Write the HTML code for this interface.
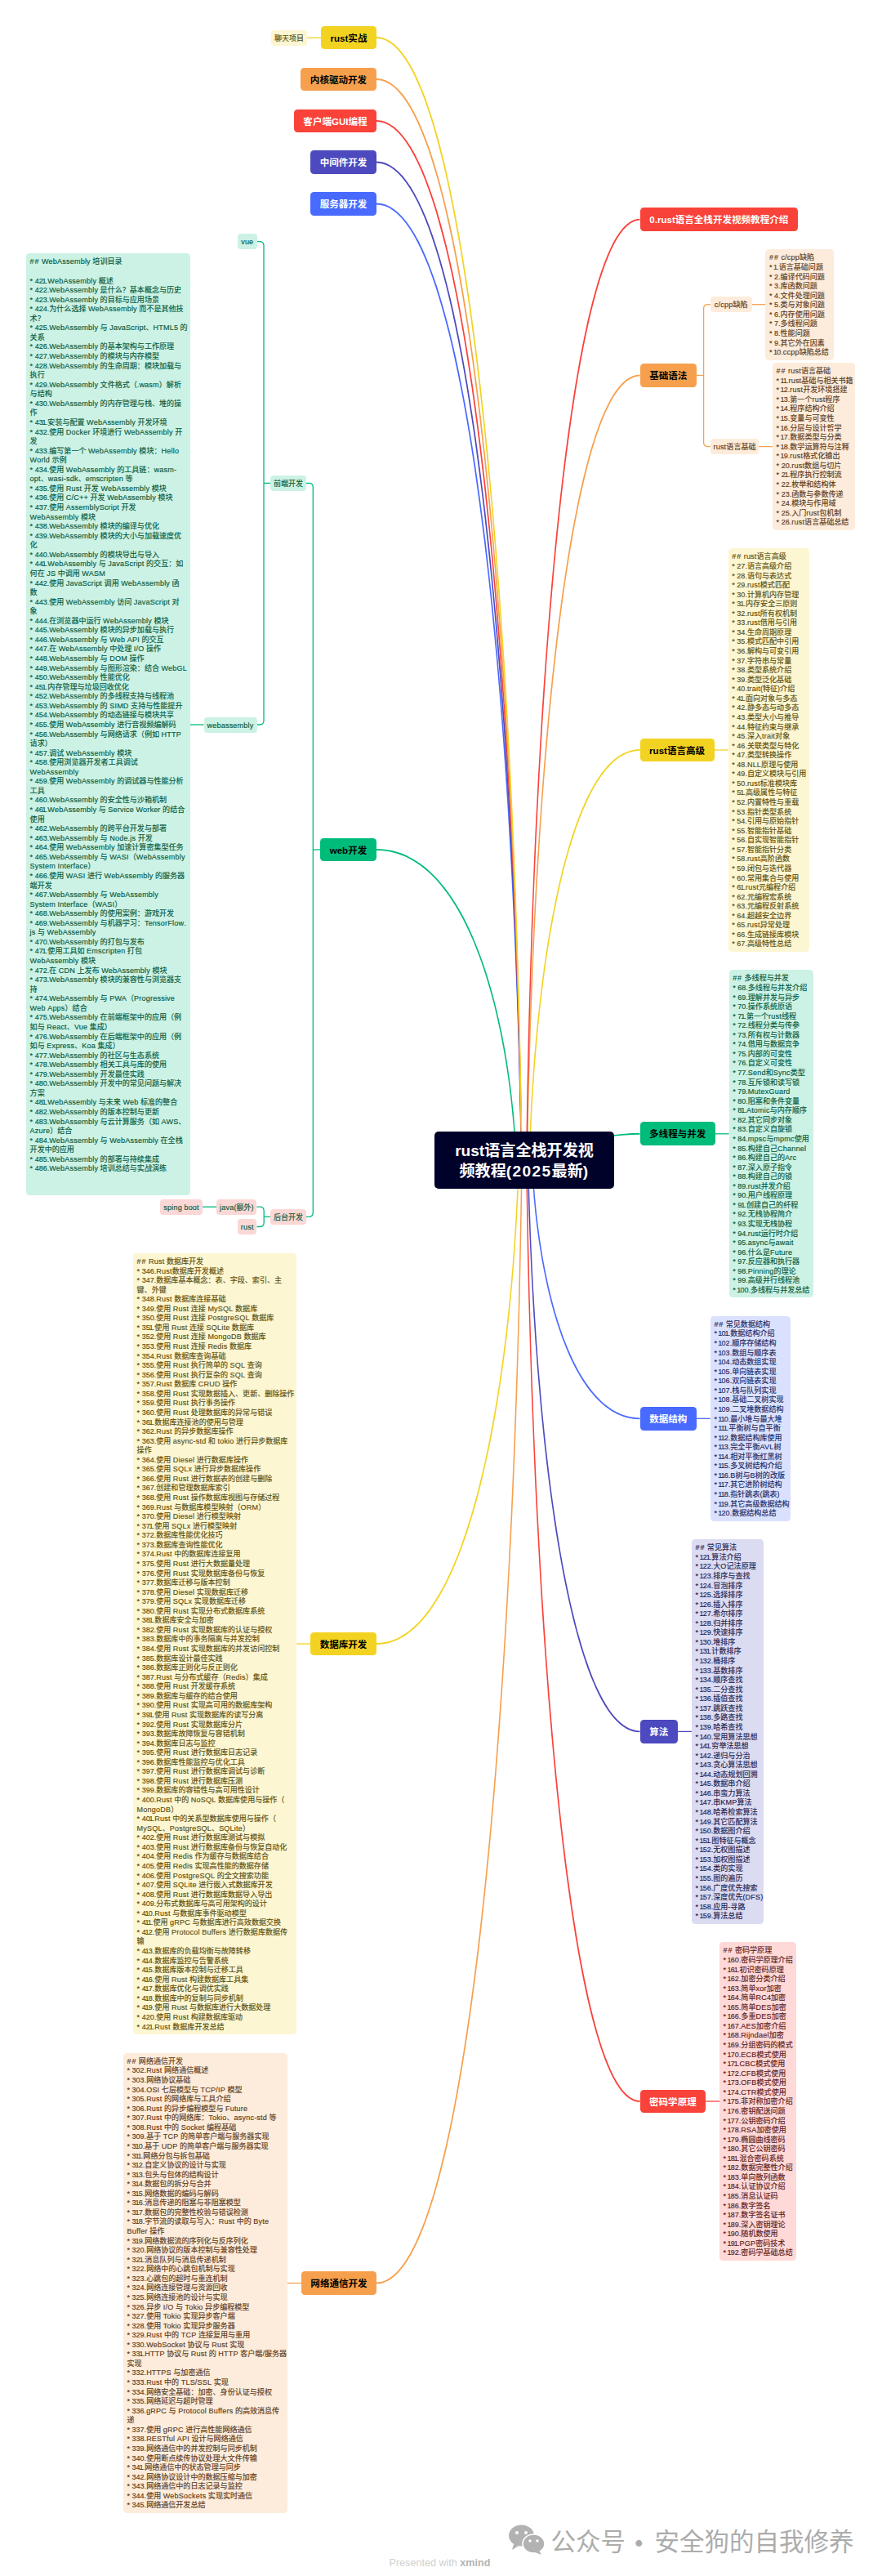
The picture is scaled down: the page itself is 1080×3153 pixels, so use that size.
<!DOCTYPE html>
<html lang="zh-CN"><head><meta charset="utf-8"><title>rust语言全栈开发视频教程(2025最新)</title><style>
html,body{margin:0;padding:0;background:#fff}
body{width:1080px;height:3153px;position:relative;overflow:hidden;font-family:"Liberation Sans","Noto Sans CJK SC",sans-serif}
.m{position:absolute;height:28.8px;line-height:30px;border-radius:4.5px;font-size:11.56px;font-weight:bold;text-align:center;white-space:nowrap}
.s{position:absolute;height:19px;line-height:20.6px;border-radius:4px;font-size:9.05px;text-align:center;white-space:nowrap;-webkit-text-stroke:.15px currentColor}
.n{position:absolute;box-sizing:border-box;padding:5.2px 0 0 4.6px;border-radius:4.5px;font-size:9.05px;line-height:11.565px;white-space:pre;overflow:hidden;-webkit-text-stroke:.15px currentColor}
.c{position:absolute;background:#000229;color:#fff;border-radius:5px;font-size:19.1px;font-weight:bold;line-height:25.5px;text-align:center;box-sizing:border-box;padding-top:10.7px;white-space:nowrap}
.n i,.s i{font-style:normal;letter-spacing:.2px}
.c i{font-style:normal;letter-spacing:1.4px}
.n b{font-weight:normal;letter-spacing:.9px}
.n u{text-decoration:none;letter-spacing:-.8px;margin-left:-1.1px}
#dot{font-family:"Noto Sans CJK SC","Liberation Sans",sans-serif}
.pw{position:absolute;font-size:12.6px;color:#cfcfcf;white-space:nowrap;line-height:16px}
.pw b{color:#b4b4b4}
.wm{position:absolute;font-size:30.5px;line-height:38px;color:#acacac;white-space:nowrap}
</style></head><body>
<svg style="position:absolute;left:0;top:0" width="1080" height="3153" viewBox="0 0 1080 3153">
<path d="M644.1 1420.0 L644.4 1448.8 L644.9 1477.6 L645.4 1506.3 L645.9 1535.0 L646.6 1563.7 L647.3 1592.2 L648.1 1620.7 L648.9 1649.1 L649.8 1677.3 L650.7 1705.4 L651.8 1733.3 L652.9 1761.0 L654.0 1788.6 L655.2 1815.9 L656.5 1843.0 L657.9 1869.9 L659.3 1896.5 L660.8 1922.9 L662.3 1949.0 L663.9 1974.7 L665.6 2000.2 L667.4 2025.3 L669.2 2050.0 L671.0 2074.4 L673.0 2098.4 L675.0 2122.0 L677.1 2145.2 L679.2 2167.9 L681.4 2190.2 L683.7 2212.1 L686.0 2233.5 L688.4 2254.3 L690.9 2274.7 L693.4 2294.5 L696.0 2313.8 L698.7 2332.5 L701.4 2350.7 L704.2 2368.2 L707.1 2385.2 L710.0 2401.5 L713.0 2417.2 L716.1 2432.2 L719.2 2446.6 L722.4 2460.3 L725.7 2473.2 L729.1 2485.5 L732.5 2497.0 L735.9 2507.8 L739.5 2517.8 L743.1 2527.0 L746.8 2535.5 L750.5 2543.1 L754.3 2549.9 L758.2 2555.8 L762.2 2560.9 L766.3 2565.2 L770.5 2568.5 L774.7 2571.0 L779.1 2572.4 L783.6 2572.9 L783.6 2571.1 L779.5 2570.6 L775.5 2569.2 L771.5 2567.0 L767.6 2563.8 L763.6 2559.7 L759.7 2554.8 L755.9 2548.9 L752.1 2542.2 L748.4 2534.7 L744.8 2526.3 L741.2 2517.2 L737.6 2507.2 L734.2 2496.5 L730.8 2485.0 L727.5 2472.8 L724.2 2459.8 L721.0 2446.2 L717.9 2431.8 L714.8 2416.8 L711.8 2401.2 L708.8 2384.9 L706.0 2367.9 L703.2 2350.4 L700.4 2332.3 L697.8 2313.5 L695.1 2294.3 L692.6 2274.5 L690.1 2254.1 L687.7 2233.3 L685.4 2211.9 L683.1 2190.1 L680.9 2167.8 L678.7 2145.0 L676.7 2121.9 L674.7 2098.3 L672.7 2074.3 L670.8 2049.9 L669.0 2025.1 L667.3 2000.0 L665.6 1974.6 L663.9 1948.9 L662.4 1922.8 L660.9 1896.5 L659.5 1869.8 L658.1 1843.0 L656.8 1815.8 L655.6 1788.5 L654.4 1761.0 L653.3 1733.2 L652.3 1705.3 L651.3 1677.2 L650.4 1649.0 L649.6 1620.7 L648.8 1592.2 L648.1 1563.6 L647.5 1535.0 L646.9 1506.3 L646.4 1477.6 L645.9 1448.8 L645.6 1420.0Z" fill="#F9423A"/>
<path d="M645.8 1420.0 L646.2 1437.5 L646.6 1455.0 L647.1 1472.4 L647.7 1489.9 L648.3 1507.3 L649.0 1524.6 L649.8 1541.9 L650.6 1559.1 L651.5 1576.2 L652.4 1593.3 L653.4 1610.2 L654.5 1627.1 L655.6 1643.8 L656.9 1660.4 L658.1 1676.9 L659.5 1693.2 L660.9 1709.4 L662.3 1725.4 L663.9 1741.2 L665.4 1756.8 L667.1 1772.3 L668.8 1787.5 L670.6 1802.6 L672.5 1817.4 L674.4 1831.9 L676.4 1846.3 L678.4 1860.4 L680.5 1874.2 L682.7 1887.7 L685.0 1901.0 L687.3 1914.0 L689.6 1926.6 L692.1 1939.0 L694.6 1951.0 L697.2 1962.8 L699.8 1974.1 L702.5 1985.2 L705.3 1995.8 L708.1 2006.1 L711.0 2016.0 L714.0 2025.6 L717.0 2034.7 L720.1 2043.4 L723.2 2051.8 L726.5 2059.6 L729.8 2067.1 L733.1 2074.1 L736.6 2080.7 L740.1 2086.8 L743.7 2092.4 L747.3 2097.5 L751.0 2102.2 L754.8 2106.3 L758.7 2110.0 L762.6 2113.1 L766.7 2115.7 L770.8 2117.7 L775.0 2119.2 L779.3 2120.0 L783.6 2120.3 L783.6 2118.5 L779.5 2118.2 L775.5 2117.3 L771.5 2116.0 L767.6 2114.0 L763.7 2111.6 L759.9 2108.6 L756.1 2105.0 L752.4 2101.0 L748.8 2096.4 L745.2 2091.4 L741.7 2085.8 L738.2 2079.8 L734.8 2073.3 L731.4 2066.3 L728.1 2058.9 L724.9 2051.1 L721.8 2042.8 L718.7 2034.1 L715.6 2025.0 L712.7 2015.5 L709.8 2005.6 L706.9 1995.4 L704.2 1984.7 L701.5 1973.7 L698.8 1962.4 L696.3 1950.7 L693.8 1938.7 L691.3 1926.3 L688.9 1913.7 L686.6 1900.7 L684.4 1887.4 L682.2 1873.9 L680.1 1860.1 L678.0 1846.0 L676.0 1831.7 L674.1 1817.2 L672.3 1802.4 L670.5 1787.3 L668.7 1772.1 L667.1 1756.7 L665.5 1741.0 L663.9 1725.2 L662.5 1709.2 L661.1 1693.1 L659.7 1676.7 L658.4 1660.3 L657.2 1643.7 L656.1 1627.0 L655.0 1610.1 L654.0 1593.2 L653.0 1576.1 L652.1 1559.0 L651.3 1541.8 L650.5 1524.5 L649.8 1507.2 L649.2 1489.8 L648.6 1472.4 L648.1 1454.9 L647.7 1437.5 L647.3 1420.0Z" fill="#4D49BE"/>
<path d="M650.6 1420.0 L651.0 1427.9 L651.4 1435.9 L651.9 1443.8 L652.5 1451.6 L653.1 1459.5 L653.7 1467.4 L654.5 1475.2 L655.2 1483.0 L656.1 1490.7 L657.0 1498.4 L658.0 1506.1 L659.0 1513.7 L660.1 1521.3 L661.3 1528.8 L662.5 1536.3 L663.8 1543.7 L665.2 1551.0 L666.6 1558.2 L668.1 1565.4 L669.6 1572.5 L671.2 1579.5 L672.9 1586.4 L674.6 1593.2 L676.4 1599.9 L678.2 1606.5 L680.2 1613.0 L682.1 1619.3 L684.2 1625.6 L686.3 1631.7 L688.4 1637.8 L690.7 1643.6 L693.0 1649.4 L695.3 1655.0 L697.7 1660.4 L700.2 1665.7 L702.8 1670.9 L705.4 1675.9 L708.1 1680.7 L710.8 1685.4 L713.6 1689.9 L716.5 1694.2 L719.4 1698.4 L722.4 1702.4 L725.5 1706.1 L728.6 1709.7 L731.8 1713.1 L735.1 1716.3 L738.4 1719.3 L741.8 1722.0 L745.3 1724.6 L748.8 1726.9 L752.4 1729.0 L756.1 1730.9 L759.8 1732.6 L763.6 1734.0 L767.5 1735.1 L771.4 1736.1 L775.4 1736.7 L779.5 1737.1 L783.6 1737.2 L783.6 1735.4 L779.6 1735.2 L775.7 1734.8 L771.8 1734.2 L768.0 1733.3 L764.2 1732.2 L760.5 1730.9 L756.9 1729.3 L753.3 1727.4 L749.8 1725.4 L746.3 1723.1 L742.9 1720.6 L739.6 1717.9 L736.3 1715.0 L733.1 1711.8 L730.0 1708.5 L726.9 1705.0 L723.8 1701.3 L720.9 1697.3 L718.0 1693.2 L715.1 1689.0 L712.3 1684.5 L709.6 1679.9 L706.9 1675.1 L704.3 1670.1 L701.8 1665.0 L699.3 1659.7 L696.9 1654.3 L694.6 1648.7 L692.3 1643.0 L690.0 1637.2 L687.9 1631.2 L685.8 1625.1 L683.7 1618.8 L681.8 1612.5 L679.8 1606.0 L678.0 1599.4 L676.2 1592.8 L674.5 1586.0 L672.8 1579.1 L671.2 1572.1 L669.7 1565.1 L668.2 1557.9 L666.8 1550.7 L665.4 1543.4 L664.1 1536.0 L662.9 1528.6 L661.7 1521.1 L660.6 1513.5 L659.6 1505.9 L658.6 1498.2 L657.7 1490.5 L656.8 1482.8 L656.0 1475.0 L655.3 1467.2 L654.6 1459.4 L654.0 1451.5 L653.4 1443.7 L652.9 1435.8 L652.5 1427.9 L652.1 1420.0Z" fill="#486AFF"/>
<path d="M649.0 1420.0 L649.4 1407.5 L649.8 1394.9 L650.3 1382.4 L650.9 1369.9 L651.5 1357.4 L652.2 1345.0 L652.9 1332.6 L653.8 1320.2 L654.6 1308.0 L655.6 1295.7 L656.6 1283.6 L657.7 1271.5 L658.8 1259.5 L660.0 1247.6 L661.2 1235.8 L662.6 1224.1 L664.0 1212.5 L665.4 1201.0 L666.9 1189.6 L668.5 1178.4 L670.1 1167.3 L671.9 1156.4 L673.6 1145.6 L675.5 1135.0 L677.4 1124.6 L679.3 1114.3 L681.4 1104.2 L683.4 1094.3 L685.6 1084.6 L687.8 1075.1 L690.1 1065.8 L692.4 1056.7 L694.9 1047.8 L697.3 1039.2 L699.9 1030.8 L702.5 1022.7 L705.1 1014.8 L707.9 1007.2 L710.7 999.8 L713.5 992.7 L716.5 985.9 L719.4 979.4 L722.5 973.1 L725.6 967.2 L728.8 961.6 L732.0 956.3 L735.3 951.3 L738.7 946.7 L742.1 942.3 L745.6 938.4 L749.1 934.8 L752.7 931.5 L756.4 928.6 L760.1 926.1 L763.9 923.9 L767.7 922.1 L771.6 920.8 L775.5 919.8 L779.5 919.1 L783.6 918.9 L783.6 917.1 L779.3 917.3 L775.2 917.9 L771.0 919.0 L767.0 920.4 L763.0 922.3 L759.1 924.5 L755.3 927.1 L751.5 930.1 L747.8 933.4 L744.2 937.1 L740.7 941.2 L737.2 945.6 L733.8 950.3 L730.5 955.3 L727.2 960.7 L724.0 966.4 L720.9 972.3 L717.8 978.6 L714.8 985.2 L711.9 992.0 L709.0 999.2 L706.2 1006.6 L703.5 1014.2 L700.8 1022.1 L698.2 1030.3 L695.7 1038.7 L693.2 1047.4 L690.8 1056.3 L688.4 1065.4 L686.2 1074.7 L683.9 1084.2 L681.8 1093.9 L679.7 1103.9 L677.7 1114.0 L675.7 1124.3 L673.8 1134.7 L672.0 1145.4 L670.2 1156.1 L668.5 1167.1 L666.9 1178.2 L665.3 1189.4 L663.8 1200.8 L662.4 1212.3 L661.0 1223.9 L659.7 1235.6 L658.4 1247.4 L657.2 1259.3 L656.1 1271.3 L655.0 1283.4 L654.0 1295.6 L653.1 1307.8 L652.2 1320.1 L651.4 1332.5 L650.6 1344.9 L650.0 1357.4 L649.3 1369.8 L648.8 1382.3 L648.3 1394.9 L647.9 1407.4 L647.5 1420.0Z" fill="#F3D321"/>
<path d="M646.1 1420.0 L646.5 1396.0 L646.9 1372.0 L647.4 1348.0 L648.0 1324.1 L648.7 1300.2 L649.4 1276.4 L650.1 1252.7 L651.0 1229.1 L651.9 1205.5 L652.8 1182.1 L653.9 1158.9 L654.9 1135.7 L656.1 1112.8 L657.3 1090.0 L658.6 1067.4 L660.0 1045.0 L661.4 1022.8 L662.9 1000.8 L664.4 979.1 L666.0 957.6 L667.7 936.4 L669.5 915.5 L671.3 894.8 L673.1 874.5 L675.1 854.5 L677.1 834.8 L679.2 815.5 L681.3 796.6 L683.5 778.0 L685.8 759.8 L688.1 742.0 L690.5 724.6 L693.0 707.6 L695.5 691.1 L698.1 675.0 L700.8 659.4 L703.5 644.3 L706.3 629.7 L709.1 615.6 L712.1 602.0 L715.1 588.9 L718.1 576.4 L721.2 564.5 L724.4 553.1 L727.7 542.3 L731.0 532.1 L734.4 522.6 L737.8 513.6 L741.3 505.3 L744.9 497.7 L748.5 490.7 L752.2 484.5 L756.0 478.9 L759.8 474.0 L763.7 469.9 L767.6 466.5 L771.5 463.9 L775.5 462.0 L779.5 460.8 L783.6 460.4 L783.6 458.6 L779.2 459.0 L774.8 460.2 L770.6 462.2 L766.4 465.0 L762.4 468.6 L758.4 472.8 L754.5 477.8 L750.7 483.5 L746.9 489.9 L743.3 496.9 L739.7 504.6 L736.1 512.9 L732.7 521.9 L729.3 531.5 L726.0 541.8 L722.7 552.6 L719.5 564.0 L716.4 576.0 L713.3 588.5 L710.3 601.6 L707.4 615.2 L704.6 629.4 L701.8 644.0 L699.0 659.1 L696.4 674.7 L693.8 690.8 L691.3 707.4 L688.8 724.3 L686.4 741.7 L684.1 759.5 L681.8 777.8 L679.6 796.4 L677.5 815.3 L675.4 834.7 L673.4 854.3 L671.5 874.4 L669.6 894.7 L667.8 915.3 L666.1 936.3 L664.4 957.5 L662.8 979.0 L661.3 1000.7 L659.8 1022.7 L658.4 1044.9 L657.0 1067.3 L655.7 1089.9 L654.5 1112.7 L653.4 1135.7 L652.3 1158.8 L651.3 1182.1 L650.3 1205.5 L649.4 1229.0 L648.6 1252.6 L647.8 1276.4 L647.1 1300.2 L646.5 1324.1 L645.9 1348.0 L645.4 1372.0 L645.0 1396.0 L644.6 1420.0Z" fill="#F6A04D"/>
<path d="M645.6 1420.0 L645.9 1391.2 L646.4 1362.5 L646.9 1333.7 L647.5 1305.1 L648.1 1276.4 L648.8 1247.9 L649.6 1219.5 L650.4 1191.1 L651.3 1162.9 L652.3 1134.9 L653.3 1107.0 L654.4 1079.2 L655.6 1051.7 L656.8 1024.4 L658.1 997.3 L659.5 970.4 L660.9 943.8 L662.4 917.5 L663.9 891.5 L665.6 865.7 L667.3 840.3 L669.0 815.2 L670.8 790.5 L672.7 766.1 L674.7 742.1 L676.7 718.6 L678.7 695.4 L680.9 672.7 L683.1 650.4 L685.4 628.6 L687.7 607.2 L690.1 586.4 L692.6 566.1 L695.2 546.3 L697.8 527.0 L700.4 508.3 L703.2 490.2 L706.0 472.6 L708.8 455.7 L711.8 439.4 L714.8 423.8 L717.9 408.8 L721.0 394.4 L724.2 380.8 L727.5 367.9 L730.8 355.7 L734.2 344.2 L737.7 333.5 L741.2 323.5 L744.8 314.4 L748.4 306.0 L752.1 298.5 L755.9 291.8 L759.7 285.9 L763.6 281.0 L767.6 276.9 L771.5 273.7 L775.5 271.5 L779.5 270.1 L783.6 269.6 L783.6 267.8 L779.1 268.3 L774.7 269.7 L770.5 272.2 L766.3 275.5 L762.2 279.7 L758.2 284.9 L754.3 290.8 L750.5 297.6 L746.8 305.2 L743.1 313.7 L739.5 322.9 L735.9 332.9 L732.5 343.6 L729.1 355.2 L725.7 367.4 L722.4 380.4 L719.2 394.0 L716.1 408.4 L713.0 423.4 L710.0 439.1 L707.1 455.4 L704.2 472.4 L701.4 489.9 L698.7 508.0 L696.0 526.8 L693.4 546.0 L690.9 565.8 L688.4 586.2 L686.0 607.0 L683.7 628.4 L681.4 650.2 L679.2 672.5 L677.1 695.3 L675.0 718.4 L673.0 742.0 L671.1 766.0 L669.2 790.4 L667.4 815.1 L665.6 840.2 L663.9 865.6 L662.3 891.4 L660.8 917.4 L659.3 943.7 L657.9 970.4 L656.5 997.2 L655.2 1024.3 L654.0 1051.6 L652.9 1079.2 L651.8 1106.9 L650.7 1134.8 L649.8 1162.9 L648.9 1191.1 L648.1 1219.4 L647.3 1247.9 L646.6 1276.4 L646.0 1305.0 L645.4 1333.7 L644.9 1362.4 L644.4 1391.2 L644.1 1420.0Z" fill="#F9423A"/>
<path d="M638.2 1420.0 L637.8 1454.3 L637.2 1488.7 L636.5 1523.0 L635.8 1557.2 L635.0 1591.4 L634.1 1625.5 L633.1 1659.4 L632.0 1693.2 L630.8 1726.9 L629.6 1760.4 L628.3 1793.7 L626.9 1826.8 L625.4 1859.7 L623.8 1892.3 L622.2 1924.7 L620.4 1956.7 L618.6 1988.5 L616.7 2019.9 L614.7 2051.0 L612.6 2081.7 L610.4 2112.1 L608.2 2142.0 L605.9 2171.6 L603.5 2200.6 L601.0 2229.3 L598.4 2257.4 L595.7 2285.1 L593.0 2312.2 L590.1 2338.8 L587.2 2364.9 L584.2 2390.3 L581.1 2415.2 L577.9 2439.5 L574.7 2463.2 L571.3 2486.1 L567.9 2508.5 L564.4 2530.1 L560.8 2551.0 L557.1 2571.2 L553.4 2590.7 L549.5 2609.4 L545.6 2627.3 L541.5 2644.4 L537.4 2660.7 L533.3 2676.1 L529.0 2690.7 L524.6 2704.4 L520.2 2717.2 L515.7 2729.1 L511.0 2740.0 L506.4 2750.0 L501.6 2759.0 L496.7 2767.0 L491.8 2774.0 L486.8 2779.9 L481.8 2784.8 L476.7 2788.6 L471.5 2791.4 L466.3 2793.0 L461.0 2793.6 L461.0 2795.4 L466.7 2794.9 L472.2 2793.1 L477.7 2790.2 L483.0 2786.3 L488.2 2781.2 L493.3 2775.1 L498.3 2768.0 L503.2 2759.9 L508.0 2750.8 L512.7 2740.8 L517.4 2729.8 L521.9 2717.8 L526.3 2705.0 L530.7 2691.2 L535.0 2676.6 L539.2 2661.1 L543.3 2644.8 L547.3 2627.7 L551.2 2609.8 L555.1 2591.0 L558.8 2571.6 L562.5 2551.3 L566.1 2530.4 L569.6 2508.7 L573.0 2486.4 L576.4 2463.4 L579.6 2439.7 L582.8 2415.4 L585.9 2390.6 L588.9 2365.1 L591.8 2339.0 L594.6 2312.4 L597.4 2285.2 L600.0 2257.6 L602.6 2229.4 L605.1 2200.8 L607.5 2171.7 L609.8 2142.2 L612.1 2112.2 L614.2 2081.9 L616.3 2051.1 L618.3 2020.0 L620.2 1988.6 L622.0 1956.8 L623.7 1924.7 L625.4 1892.4 L627.0 1859.8 L628.5 1826.9 L629.9 1793.8 L631.2 1760.5 L632.4 1727.0 L633.6 1693.3 L634.6 1659.5 L635.6 1625.5 L636.5 1591.4 L637.3 1557.3 L638.0 1523.0 L638.7 1488.7 L639.3 1454.4 L639.7 1420.0Z" fill="#F6A04D"/>
<path d="M634.5 1420.0 L634.0 1434.8 L633.5 1449.6 L632.8 1464.3 L632.1 1479.1 L631.3 1493.8 L630.4 1508.5 L629.5 1523.1 L628.4 1537.6 L627.3 1552.1 L626.1 1566.6 L624.8 1580.9 L623.4 1595.2 L621.9 1609.3 L620.4 1623.4 L618.8 1637.3 L617.1 1651.1 L615.3 1664.8 L613.4 1678.3 L611.5 1691.7 L609.4 1704.9 L607.3 1718.0 L605.1 1730.9 L602.8 1743.6 L600.5 1756.1 L598.0 1768.4 L595.5 1780.5 L592.9 1792.4 L590.2 1804.1 L587.4 1815.6 L584.6 1826.8 L581.6 1837.7 L578.6 1848.5 L575.5 1858.9 L572.3 1869.1 L569.0 1879.0 L565.7 1888.6 L562.3 1897.9 L558.7 1906.9 L555.1 1915.6 L551.5 1923.9 L547.7 1932.0 L543.9 1939.7 L539.9 1947.0 L535.9 1954.0 L531.8 1960.6 L527.7 1966.9 L523.4 1972.8 L519.1 1978.3 L514.7 1983.4 L510.2 1988.1 L505.6 1992.3 L501.0 1996.2 L496.2 1999.6 L491.4 2002.6 L486.6 2005.2 L481.6 2007.3 L476.6 2008.9 L471.5 2010.1 L466.3 2010.8 L461.0 2011.1 L461.0 2012.9 L466.4 2012.7 L471.8 2012.0 L477.1 2010.7 L482.3 2009.0 L487.4 2006.8 L492.4 2004.2 L497.3 2001.2 L502.1 1997.6 L506.8 1993.7 L511.5 1989.4 L516.0 1984.6 L520.5 1979.4 L524.9 1973.9 L529.1 1967.9 L533.3 1961.6 L537.5 1954.9 L541.5 1947.9 L545.4 1940.5 L549.3 1932.7 L553.1 1924.7 L556.8 1916.3 L560.4 1907.5 L563.9 1898.5 L567.3 1889.2 L570.7 1879.5 L574.0 1869.6 L577.1 1859.4 L580.3 1848.9 L583.3 1838.2 L586.2 1827.2 L589.1 1816.0 L591.8 1804.5 L594.5 1792.8 L597.1 1780.9 L599.7 1768.8 L602.1 1756.4 L604.5 1743.9 L606.7 1731.1 L608.9 1718.2 L611.0 1705.2 L613.1 1691.9 L615.0 1678.5 L616.9 1665.0 L618.7 1651.3 L620.4 1637.5 L622.0 1623.5 L623.5 1609.5 L625.0 1595.3 L626.3 1581.0 L627.6 1566.7 L628.8 1552.3 L630.0 1537.8 L631.0 1523.2 L632.0 1508.6 L632.8 1493.9 L633.6 1479.2 L634.4 1464.4 L635.0 1449.6 L635.6 1434.8 L636.0 1420.0Z" fill="#F3D321"/>
<path d="M632.9 1420.0 L632.4 1410.5 L631.8 1401.0 L631.2 1391.5 L630.5 1382.0 L629.7 1372.5 L628.9 1363.1 L627.9 1353.7 L626.9 1344.4 L625.8 1335.0 L624.6 1325.8 L623.3 1316.6 L622.0 1307.4 L620.6 1298.3 L619.1 1289.3 L617.5 1280.3 L615.8 1271.5 L614.1 1262.7 L612.2 1254.0 L610.3 1245.4 L608.3 1236.8 L606.2 1228.4 L604.1 1220.2 L601.8 1212.0 L599.5 1203.9 L597.1 1196.0 L594.7 1188.2 L592.1 1180.5 L589.4 1173.0 L586.7 1165.7 L583.9 1158.4 L581.0 1151.4 L578.1 1144.5 L575.0 1137.7 L571.9 1131.2 L568.7 1124.8 L565.4 1118.6 L562.0 1112.6 L558.5 1106.8 L555.0 1101.2 L551.3 1095.8 L547.6 1090.6 L543.8 1085.6 L539.9 1080.9 L536.0 1076.3 L531.9 1072.0 L527.8 1068.0 L523.6 1064.1 L519.3 1060.6 L514.9 1057.2 L510.4 1054.2 L505.9 1051.4 L501.2 1048.9 L496.5 1046.6 L491.7 1044.6 L486.8 1043.0 L481.8 1041.6 L476.7 1040.5 L471.6 1039.7 L466.3 1039.2 L461.0 1039.1 L461.0 1040.9 L466.2 1041.1 L471.3 1041.6 L476.4 1042.3 L481.3 1043.4 L486.2 1044.7 L491.0 1046.4 L495.7 1048.3 L500.4 1050.5 L504.9 1053.0 L509.4 1055.7 L513.8 1058.7 L518.1 1062.0 L522.4 1065.5 L526.6 1069.3 L530.6 1073.3 L534.7 1077.5 L538.6 1082.0 L542.4 1086.7 L546.2 1091.7 L549.9 1096.8 L553.5 1102.2 L557.0 1107.7 L560.5 1113.5 L563.8 1119.5 L567.1 1125.6 L570.3 1132.0 L573.4 1138.5 L576.5 1145.2 L579.5 1152.0 L582.3 1159.1 L585.1 1166.3 L587.9 1173.6 L590.5 1181.1 L593.1 1188.7 L595.5 1196.5 L597.9 1204.4 L600.3 1212.4 L602.5 1220.6 L604.7 1228.8 L606.7 1237.2 L608.7 1245.7 L610.6 1254.3 L612.5 1263.0 L614.2 1271.8 L615.9 1280.6 L617.5 1289.5 L619.0 1298.6 L620.4 1307.6 L621.8 1316.8 L623.1 1326.0 L624.2 1335.2 L625.4 1344.5 L626.4 1353.9 L627.3 1363.3 L628.2 1372.7 L629.0 1382.1 L629.7 1391.6 L630.3 1401.1 L630.9 1410.5 L631.4 1420.0Z" fill="#00BC7B"/>
<path d="M639.2 1420.0 L638.8 1390.7 L638.2 1361.5 L637.5 1332.3 L636.8 1303.1 L636.0 1274.0 L635.1 1245.0 L634.1 1216.1 L633.1 1187.3 L631.9 1158.6 L630.7 1130.0 L629.4 1101.7 L628.0 1073.5 L626.5 1045.5 L624.9 1017.7 L623.3 990.2 L621.6 962.8 L619.7 935.8 L617.8 909.0 L615.9 882.5 L613.8 856.4 L611.6 830.5 L609.4 805.0 L607.1 779.9 L604.7 755.1 L602.2 730.7 L599.6 706.7 L597.0 683.1 L594.3 660.0 L591.4 637.4 L588.5 615.2 L585.5 593.5 L582.5 572.3 L579.3 551.6 L576.1 531.4 L572.7 511.8 L569.3 492.8 L565.8 474.4 L562.2 456.5 L558.6 439.3 L554.8 422.7 L551.0 406.8 L547.0 391.5 L543.0 376.9 L538.9 363.0 L534.8 349.8 L530.5 337.4 L526.1 325.6 L521.7 314.7 L517.2 304.5 L512.6 295.1 L507.8 286.6 L503.0 278.8 L498.2 271.9 L493.2 265.9 L488.1 260.7 L482.9 256.4 L477.6 253.0 L472.2 250.5 L466.6 249.1 L461.0 248.6 L461.0 250.4 L466.3 250.9 L471.5 252.3 L476.7 254.6 L481.8 257.9 L486.8 262.0 L491.8 267.1 L496.7 273.0 L501.5 279.8 L506.3 287.5 L510.9 296.0 L515.5 305.3 L520.0 315.4 L524.5 326.3 L528.8 338.0 L533.1 350.4 L537.2 363.5 L541.3 377.4 L545.3 391.9 L549.3 407.2 L553.1 423.1 L556.8 439.7 L560.5 456.9 L564.1 474.7 L567.6 493.1 L571.0 512.1 L574.4 531.7 L577.6 551.8 L580.8 572.5 L583.8 593.7 L586.8 615.4 L589.7 637.6 L592.6 660.2 L595.3 683.3 L598.0 706.9 L600.6 730.9 L603.0 755.2 L605.4 780.0 L607.8 805.1 L610.0 830.6 L612.2 856.5 L614.2 882.7 L616.2 909.1 L618.1 935.9 L619.9 963.0 L621.7 990.3 L623.3 1017.8 L624.9 1045.6 L626.4 1073.6 L627.8 1101.8 L629.1 1130.1 L630.4 1158.6 L631.5 1187.3 L632.6 1216.1 L633.6 1245.0 L634.5 1274.0 L635.3 1303.1 L636.0 1332.3 L636.7 1361.5 L637.2 1390.8 L637.7 1420.0Z" fill="#486AFF"/>
<path d="M639.4 1420.0 L638.9 1389.5 L638.3 1358.9 L637.7 1328.4 L637.0 1298.0 L636.1 1267.6 L635.2 1237.4 L634.3 1207.2 L633.2 1177.1 L632.0 1147.2 L630.8 1117.4 L629.5 1087.8 L628.1 1058.4 L626.6 1029.2 L625.1 1000.2 L623.4 971.4 L621.7 942.9 L619.9 914.7 L618.0 886.8 L616.0 859.1 L613.9 831.8 L611.8 804.8 L609.5 778.2 L607.2 752.0 L604.8 726.1 L602.3 700.7 L599.8 675.6 L597.1 651.0 L594.4 626.9 L591.5 603.3 L588.6 580.1 L585.6 557.5 L582.6 535.3 L579.4 513.7 L576.1 492.7 L572.8 472.3 L569.4 452.4 L565.9 433.2 L562.3 414.6 L558.6 396.6 L554.9 379.3 L551.0 362.6 L547.1 346.7 L543.1 331.5 L539.0 317.0 L534.8 303.2 L530.6 290.2 L526.2 278.0 L521.8 266.6 L517.2 255.9 L512.6 246.2 L507.9 237.2 L503.1 229.1 L498.2 221.9 L493.2 215.6 L488.1 210.2 L482.9 205.7 L477.6 202.2 L472.2 199.6 L466.6 198.1 L461.0 197.6 L461.0 199.4 L466.3 199.9 L471.5 201.4 L476.7 203.8 L481.8 207.2 L486.8 211.5 L491.8 216.8 L496.7 223.0 L501.5 230.1 L506.3 238.1 L511.0 247.0 L515.6 256.7 L520.1 267.2 L524.5 278.6 L528.8 290.8 L533.1 303.7 L537.3 317.5 L541.4 331.9 L545.4 347.1 L549.3 363.0 L553.2 379.7 L556.9 396.9 L560.6 414.9 L564.2 433.5 L567.7 452.7 L571.1 472.6 L574.4 493.0 L577.7 514.0 L580.9 535.6 L583.9 557.7 L586.9 580.3 L589.9 603.5 L592.7 627.1 L595.4 651.2 L598.1 675.8 L600.7 700.8 L603.2 726.3 L605.6 752.1 L607.9 778.4 L610.1 805.0 L612.3 831.9 L614.4 859.2 L616.4 886.9 L618.3 914.8 L620.1 943.0 L621.8 971.5 L623.5 1000.3 L625.0 1029.3 L626.5 1058.5 L627.9 1087.9 L629.3 1117.5 L630.5 1147.3 L631.6 1177.2 L632.7 1207.2 L633.7 1237.4 L634.6 1267.7 L635.4 1298.1 L636.2 1328.5 L636.8 1359.0 L637.4 1389.5 L637.9 1420.0Z" fill="#4D49BE"/>
<path d="M639.5 1420.0 L639.0 1388.2 L638.5 1356.4 L637.8 1324.7 L637.1 1293.0 L636.3 1261.3 L635.4 1229.8 L634.4 1198.4 L633.3 1167.1 L632.2 1135.9 L630.9 1104.9 L629.6 1074.1 L628.2 1043.5 L626.7 1013.0 L625.2 982.8 L623.5 952.9 L621.8 923.2 L620.0 893.8 L618.1 864.7 L616.1 835.9 L614.0 807.5 L611.9 779.4 L609.6 751.7 L607.3 724.4 L604.9 697.4 L602.4 670.9 L599.9 644.9 L597.2 619.3 L594.5 594.1 L591.6 569.5 L588.7 545.4 L585.7 521.8 L582.6 498.8 L579.5 476.3 L576.2 454.4 L572.9 433.1 L569.5 412.4 L566.0 392.4 L562.4 373.0 L558.7 354.3 L555.0 336.3 L551.1 318.9 L547.2 302.3 L543.2 286.5 L539.1 271.4 L534.9 257.1 L530.6 243.5 L526.2 230.8 L521.8 218.9 L517.3 207.8 L512.6 197.7 L507.9 188.3 L503.1 179.9 L498.2 172.4 L493.2 165.9 L488.1 160.2 L482.9 155.6 L477.6 151.9 L472.2 149.2 L466.6 147.6 L461.0 147.1 L461.0 148.9 L466.3 149.5 L471.5 151.0 L476.7 153.5 L481.8 157.0 L486.8 161.5 L491.8 167.0 L496.7 173.5 L501.6 180.9 L506.3 189.2 L511.0 198.5 L515.6 208.6 L520.1 219.6 L524.5 231.4 L528.9 244.1 L533.2 257.6 L537.3 271.9 L541.4 286.9 L545.5 302.8 L549.4 319.3 L553.2 336.6 L557.0 354.6 L560.7 373.3 L564.3 392.7 L567.8 412.7 L571.2 433.4 L574.5 454.7 L577.8 476.5 L580.9 499.0 L584.0 522.0 L587.0 545.6 L589.9 569.7 L592.8 594.3 L595.5 619.4 L598.2 645.0 L600.8 671.1 L603.3 697.6 L605.7 724.5 L608.0 751.8 L610.2 779.5 L612.4 807.6 L614.5 836.1 L616.5 864.8 L618.4 893.9 L620.2 923.3 L621.9 953.0 L623.6 982.9 L625.2 1013.1 L626.7 1043.5 L628.1 1074.2 L629.4 1105.0 L630.6 1136.0 L631.8 1167.1 L632.8 1198.4 L633.8 1229.9 L634.7 1261.4 L635.6 1293.0 L636.3 1324.7 L636.9 1356.4 L637.5 1388.2 L638.0 1420.0Z" fill="#F9423A"/>
<path d="M639.6 1420.0 L639.1 1386.9 L638.6 1353.9 L637.9 1320.8 L637.2 1287.9 L636.4 1255.0 L635.5 1222.2 L634.5 1189.5 L633.4 1156.9 L632.3 1124.5 L631.1 1092.3 L629.7 1060.2 L628.3 1028.4 L626.9 996.7 L625.3 965.3 L623.6 934.2 L621.9 903.3 L620.1 872.7 L618.2 842.5 L616.2 812.5 L614.1 782.9 L612.0 753.7 L609.7 724.9 L607.4 696.5 L605.0 668.5 L602.5 640.9 L600.0 613.8 L597.3 587.2 L594.5 561.0 L591.7 535.4 L588.8 510.3 L585.8 485.8 L582.7 461.8 L579.6 438.5 L576.3 415.7 L573.0 393.5 L569.6 372.0 L566.1 351.2 L562.5 331.0 L558.8 311.6 L555.0 292.8 L551.2 274.8 L547.2 257.5 L543.2 241.0 L539.1 225.3 L534.9 210.4 L530.7 196.4 L526.3 183.1 L521.8 170.8 L517.3 159.3 L512.7 148.7 L508.0 139.0 L503.2 130.2 L498.3 122.4 L493.3 115.6 L488.2 109.8 L483.0 104.9 L477.6 101.1 L472.2 98.3 L466.7 96.6 L461.0 96.1 L461.0 97.9 L466.3 98.5 L471.5 100.1 L476.7 102.7 L481.8 106.3 L486.8 111.0 L491.8 116.8 L496.7 123.5 L501.6 131.2 L506.3 139.8 L511.0 149.4 L515.6 160.0 L520.1 171.4 L524.6 183.7 L528.9 196.9 L533.2 210.9 L537.4 225.8 L541.5 241.5 L545.5 257.9 L549.4 275.2 L553.3 293.2 L557.1 311.9 L560.7 331.4 L564.3 351.5 L567.8 372.3 L571.3 393.8 L574.6 415.9 L577.9 438.7 L581.0 462.1 L584.1 486.0 L587.1 510.5 L590.0 535.6 L592.9 561.2 L595.6 587.3 L598.3 614.0 L600.9 641.1 L603.4 668.6 L605.8 696.6 L608.1 725.0 L610.3 753.8 L612.5 783.1 L614.6 812.6 L616.6 842.6 L618.5 872.8 L620.3 903.4 L622.0 934.3 L623.7 965.4 L625.3 996.8 L626.8 1028.4 L628.2 1060.3 L629.5 1092.3 L630.7 1124.6 L631.9 1157.0 L633.0 1189.5 L633.9 1222.2 L634.9 1255.0 L635.7 1287.9 L636.4 1320.9 L637.1 1353.9 L637.6 1386.9 L638.1 1420.0Z" fill="#F6A04D"/>
<path d="M639.7 1420.0 L639.3 1385.6 L638.7 1351.3 L638.0 1317.0 L637.3 1282.8 L636.5 1248.6 L635.6 1214.6 L634.6 1180.6 L633.6 1146.8 L632.4 1113.1 L631.2 1079.7 L629.9 1046.4 L628.5 1013.3 L627.0 980.4 L625.4 947.8 L623.7 915.4 L622.0 883.4 L620.2 851.6 L618.3 820.2 L616.3 789.1 L614.2 758.4 L612.1 728.0 L609.8 698.1 L607.5 668.6 L605.1 639.5 L602.6 610.9 L600.0 582.7 L597.4 555.1 L594.6 527.9 L591.8 501.3 L588.9 475.3 L585.9 449.8 L582.8 424.9 L579.6 400.6 L576.4 377.0 L573.0 354.0 L569.6 331.7 L566.1 310.0 L562.5 289.1 L558.8 268.9 L555.1 249.4 L551.2 230.7 L547.3 212.7 L543.3 195.6 L539.2 179.3 L535.0 163.8 L530.7 149.2 L526.3 135.5 L521.9 122.6 L517.4 110.7 L512.7 99.7 L508.0 89.6 L503.2 80.6 L498.3 72.5 L493.3 65.4 L488.2 59.3 L483.0 54.2 L477.7 50.3 L472.2 47.4 L466.7 45.6 L461.0 45.1 L461.0 46.9 L466.3 47.5 L471.5 49.1 L476.7 51.9 L481.8 55.7 L486.8 60.5 L491.8 66.5 L496.7 73.5 L501.6 81.5 L506.4 90.5 L511.0 100.4 L515.7 111.4 L520.2 123.3 L524.6 136.1 L529.0 149.7 L533.3 164.3 L537.4 179.8 L541.5 196.0 L545.6 213.1 L549.5 231.0 L553.4 249.7 L557.1 269.2 L560.8 289.4 L564.4 310.3 L567.9 331.9 L571.3 354.2 L574.7 377.2 L577.9 400.9 L581.1 425.1 L584.2 450.0 L587.2 475.5 L590.1 501.5 L593.0 528.1 L595.7 555.2 L598.4 582.9 L601.0 611.0 L603.5 639.6 L605.9 668.7 L608.2 698.2 L610.4 728.2 L612.6 758.5 L614.7 789.2 L616.7 820.3 L618.6 851.7 L620.4 883.5 L622.1 915.5 L623.8 947.9 L625.4 980.5 L626.9 1013.3 L628.3 1046.4 L629.6 1079.7 L630.8 1113.2 L632.0 1146.9 L633.1 1180.7 L634.1 1214.6 L635.0 1248.7 L635.8 1282.8 L636.5 1317.1 L637.2 1351.3 L637.8 1385.7 L638.2 1420.0Z" fill="#F3D321"/>
<path d="M702 1398 C742 1390 763.6 1387.8 783.6 1387.8" fill="none" stroke="#00BC7B" stroke-width="1.9"/>
<path d="M853 459.5 H861.6" fill="none" stroke="#F6A04D" stroke-width="1.3"/>
<path d="M869.8 372.7 H866.6 Q861.6 372.7 861.6 377.7 V541.6 Q861.6 546.6 866.6 546.6 H869.8" fill="none" stroke="#F6A04D" stroke-width="1.3"/>
<path d="M920.6 372.7 H937.4" fill="none" stroke="#F6A04D" stroke-width="1.3"/>
<path d="M929.2 546.6 H946" fill="none" stroke="#F6A04D" stroke-width="1.3"/>
<path d="M874.5 918 H891.7" fill="none" stroke="#F3D321" stroke-width="1.3"/>
<path d="M875.8 1387.8 H892.6" fill="none" stroke="#00BC7B" stroke-width="1.3"/>
<path d="M853 1736.3 H869.8" fill="none" stroke="#486AFF" stroke-width="1.3"/>
<path d="M829.8 2119.4 H846.9" fill="none" stroke="#4D49BE" stroke-width="1.3"/>
<path d="M864.2 2572 H881" fill="none" stroke="#F9423A" stroke-width="1.3"/>
<path d="M363.4 2012 H380" fill="none" stroke="#F3D321" stroke-width="1.3"/>
<path d="M351.8 2794.5 H369" fill="none" stroke="#F6A04D" stroke-width="1.3"/>
<path d="M376 46.3 H393" fill="none" stroke="#F3D321" stroke-width="1.3"/>
<path d="M232.6 887 H249.5" fill="none" stroke="#00BC7B" stroke-width="1.3"/>
<path d="M323 591.4 H331.2" fill="none" stroke="#00BC7B" stroke-width="1.3"/>
<path d="M314.5 295.6 H318 Q323 295.6 323 300.6 V882 Q323 887 318 887 H314.5" fill="none" stroke="#00BC7B" stroke-width="1.3"/>
<path d="M248.1 1477.2 H265.3" fill="none" stroke="#00BC7B" stroke-width="1.3"/>
<path d="M323.2 1489.3 H331.4" fill="none" stroke="#00BC7B" stroke-width="1.3"/>
<path d="M314.4 1477.2 H318.2 Q323.2 1477.2 323.2 1482.2 V1496.5 Q323.2 1501.5 318.2 1501.5 H314.4" fill="none" stroke="#00BC7B" stroke-width="1.3"/>
<path d="M383.3 1040 H392" fill="none" stroke="#00BC7B" stroke-width="1.3"/>
<path d="M374.8 591.4 H378.3 Q383.3 591.4 383.3 596.4 V1484.3 Q383.3 1489.3 378.3 1489.3 H374.8" fill="none" stroke="#00BC7B" stroke-width="1.3"/>
</svg>
<div class="m" style="left:393px;top:31.6px;width:68px;background:#F3D321;color:#000">rust实战</div>
<div class="m" style="left:368px;top:82.6px;width:93px;background:#F6A04D;color:#000">内核驱动开发</div>
<div class="m" style="left:360px;top:133.6px;width:101px;background:#F9423A;color:#fff">客户端GUI编程</div>
<div class="m" style="left:380px;top:184.1px;width:81px;background:#4D49BE;color:#fff">中间件开发</div>
<div class="m" style="left:380px;top:235.1px;width:81px;background:#486AFF;color:#fff">服务器开发</div>
<div class="m" style="left:392px;top:1025.6px;width:69px;background:#00BC7B;color:#000">web开发</div>
<div class="m" style="left:380px;top:1997.6px;width:81px;background:#F3D321;color:#000">数据库开发</div>
<div class="m" style="left:369px;top:2780.1px;width:92px;background:#F6A04D;color:#000">网络通信开发</div>
<div class="m" style="left:783.6px;top:254.3px;width:193.4px;background:#F9423A;color:#fff">0.rust语言全栈开发视频教程介绍</div>
<div class="m" style="left:783.6px;top:445.1px;width:69.4px;background:#F6A04D;color:#000">基础语法</div>
<div class="m" style="left:783.6px;top:903.6px;width:91px;background:#F3D321;color:#000">rust语言高级</div>
<div class="m" style="left:783.6px;top:1373.4px;width:92.2px;background:#00BC7B;color:#000">多线程与并发</div>
<div class="m" style="left:783.6px;top:1721.9px;width:69.4px;background:#486AFF;color:#fff">数据结构</div>
<div class="m" style="left:783.6px;top:2105px;width:46.2px;background:#4D49BE;color:#fff">算法</div>
<div class="m" style="left:783.6px;top:2557.6px;width:80.6px;background:#F9423A;color:#fff">密码学原理</div>
<div class="n" style="left:937.4px;top:305.3px;width:83.6px;height:135.215px;background:#FDECDB;color:#5C3A1A"><b>##</b> <i>c/cpp</i>缺陷
* <u>1</u>.语言基础问题
* 2.编译代码问题
* 3.库函数问题
* 4.文件处理问题
* 5.类与对象问题
* 6.内存使用问题
* 7.多线程问题
* 8.性能问题
* 9.其它外在因素
* <u>1</u>0.<i>ccpp</i>缺陷总结</div>
<div class="n" style="left:946px;top:444px;width:101.3px;height:204.605px;background:#FDECDB;color:#5C3A1A"><b>##</b> <i>rust</i>语言基础
* <u>1</u><u>1</u>.<i>rust</i>基础与相关书籍
* <u>1</u>2.<i>rust</i>开发环境搭建
* <u>1</u>3.第一个<i>rust</i>程序
* <u>1</u>4.程序结构介绍
* <u>1</u>5.变量与可变性
* <u>1</u>6.分层与设计哲学
* <u>1</u>7.数据类型与分类
* <u>1</u>8.数学运算符与注释
* <u>1</u>9.<i>rust</i>格式化输出
* 20.<i>rust</i>数组与切片
* 2<u>1</u>.程序执行控制流
* 22.枚举和结构体
* 23.函数与参数传递
* 24.模块与作用域
* 25.入门<i>rust</i>包机制
* 26.<i>rust</i>语言基础总结</div>
<div class="s" style="left:869.8px;top:363.2px;width:50.8px;background:#FDECDB;color:#5C3A1A"><i>c/cpp</i>缺陷</div>
<div class="s" style="left:869.8px;top:537.1px;width:59.4px;background:#FDECDB;color:#5C3A1A"><i>rust</i>语言基础</div>
<div class="n" style="left:891.7px;top:671.2px;width:99.1px;height:493.73px;background:#FDF6D3;color:#5A4E0C"><b>##</b> <i>rust</i>语言高级
* 27.语言高级介绍
* 28.语句与表达式
* 29.<i>rust</i>模式匹配
* 30.计算机内存管理
* 3<u>1</u>.内存安全三原则
* 32.<i>rust</i>所有权机制
* 33.<i>rust</i>借用与引用
* 34.生命周期原理
* 35.模式匹配中引用
* 36.解构与可变引用
* 37.字符串与常量
* 38.类型系统介绍
* 39.类型泛化基础
* 40.<i>trait</i>(特征)介绍
* 4<u>1</u>.面向对象与多态
* 42.静多态与动多态
* 43.类型大小与推导
* 44.特征约束与继承
* 45.深入<i>trait</i>对象
* 46.关联类型与特化
* 47.类型转换操作
* 48.<i>NLL</i>原理与使用
* 49.自定义模块与引用
* 50.<i>rust</i>标准模块库
* 5<u>1</u>.高级属性与特征
* 52.内置特性与重载
* 53.指针类型系统
* 54.引用与原始指针
* 55.智能指针基础
* 56.自实现智能指针
* 57.智能指针分类
* 58.<i>rust</i>高阶函数
* 59.闭包与迭代器
* 60.常用集合与使用
* 6<u>1</u>.<i>rust</i>元编程介绍
* 62.元编程宏系统
* 63.元编程反射系统
* 64.超越安全边界
* 65.<i>rust</i>异常处理
* 66.生成链接库模块
* 67.高级特性总结</div>
<div class="n" style="left:892.6px;top:1187.2px;width:103.4px;height:401.21px;background:#CCF2E5;color:#07593C"><b>##</b> 多线程与并发
* 68.多线程与并发介绍
* 69.理解并发与异步
* 70.操作系统原语
* 7<u>1</u>.第一个<i>rust</i>线程
* 72.线程分类与传参
* 73.所有权与计数器
* 74.借用与数据竞争
* 75.内部的可变性
* 76.自定义可变性
* 77.<i>Send</i>和<i>Sync</i>类型
* 78.互斥锁和读写锁
* 79.<i>MutexGuard</i>
* 80.阻塞和条件变量
* 8<u>1</u>.<i>Atomic</i>与内存顺序
* 82.其它同步对象
* 83.自定义自旋锁
* 84.<i>mpsc</i>与<i>mpmc</i>使用
* 85.构建自己<i>Channel</i>
* 86.构建自己的<i>Arc</i>
* 87.深入原子指令
* 88.构建自己的锁
* 89.<i>rust</i>并发介绍
* 90.用户线程原理
* 9<u>1</u>.创建自己的纤程
* 92.无栈协程简介
* 93.实现无栈协程
* 94.<i>rust</i>运行时介绍
* 95.<i>async</i>与<i>await</i>
* 96.什么是<i>Future</i>
* 97.反应器和执行器
* 98.<i>Pinning</i>的理论
* 99.高级并行线程池
* <u>1</u>00.多线程与并发总结</div>
<div class="n" style="left:869.8px;top:1610.7px;width:98.6px;height:250.865px;background:#DAE1FF;color:#1B2860"><b>##</b> 常见数据结构
* <u>1</u>0<u>1</u>.数据结构介绍
* <u>1</u>02.顺序存储结构
* <u>1</u>03.数组与顺序表
* <u>1</u>04.动态数组实现
* <u>1</u>05.单向链表实现
* <u>1</u>06.双向链表实现
* <u>1</u>07.栈与队列实现
* <u>1</u>08.基础二叉树实现
* <u>1</u>09.二叉堆数据结构
* <u>1</u><u>1</u>0.最小堆与最大堆
* <u>1</u><u>1</u><u>1</u>.平衡树与自平衡
* <u>1</u><u>1</u>2.数据结构库使用
* <u>1</u><u>1</u>3.完全平衡<i>AVL</i>树
* <u>1</u><u>1</u>4.相对平衡红黑树
* <u>1</u><u>1</u>5.多叉树结构介绍
* <u>1</u><u>1</u>6.<i>B</i>树与<i>B</i>树的改版
* <u>1</u><u>1</u>7.其它进阶树结构
* <u>1</u><u>1</u>8.指针跳表(跳表)
* <u>1</u><u>1</u>9.其它高级数据结构
* <u>1</u>20.数据结构总结</div>
<div class="n" style="left:846.9px;top:1884.1px;width:87.9px;height:470.6px;background:#DBDBF2;color:#1F1D4E"><b>##</b> 常见算法
* <u>1</u>2<u>1</u>.算法介绍
* <u>1</u>22.大<i>O</i>记法原理
* <u>1</u>23.排序与查找
* <u>1</u>24.冒泡排序
* <u>1</u>25.选择排序
* <u>1</u>26.插入排序
* <u>1</u>27.希尔排序
* <u>1</u>28.归并排序
* <u>1</u>29.快速排序
* <u>1</u>30.堆排序
* <u>1</u>3<u>1</u>.计数排序
* <u>1</u>32.桶排序
* <u>1</u>33.基数排序
* <u>1</u>34.顺序查找
* <u>1</u>35.二分查找
* <u>1</u>36.插值查找
* <u>1</u>37.跳跃查找
* <u>1</u>38.多路查找
* <u>1</u>39.哈希查找
* <u>1</u>40.常用算法思想
* <u>1</u>4<u>1</u>.穷举法思想
* <u>1</u>42.递归与分治
* <u>1</u>43.贪心算法思想
* <u>1</u>44.动态规划回溯
* <u>1</u>45.数据串介绍
* <u>1</u>46.串蛮力算法
* <u>1</u>47.串<i>KMP</i>算法
* <u>1</u>48.哈希检索算法
* <u>1</u>49.其它匹配算法
* <u>1</u>50.数据图介绍
* <u>1</u>5<u>1</u>.图特征与概念
* <u>1</u>52.无权图描述
* <u>1</u>53.加权图描述
* <u>1</u>54.类的实现
* <u>1</u>55.图的遍历
* <u>1</u>56.广度优先搜索
* <u>1</u>57.深度优先(<i>DFS</i>)
* <u>1</u>58.应用-寻路
* <u>1</u>59.算法总结</div>
<div class="n" style="left:881px;top:2377.2px;width:93.9px;height:389.645px;background:#FED9D8;color:#5E1A17"><b>##</b> 密码学原理
* <u>1</u>60.密码学原理介绍
* <u>1</u>6<u>1</u>.初识密码原理
* <u>1</u>62.加密分类介绍
* <u>1</u>63.简单<i>xor</i>加密
* <u>1</u>64.简单<i>RC</i>4加密
* <u>1</u>65.简单<i>DES</i>加密
* <u>1</u>66.多重<i>DES</i>加密
* <u>1</u>67.<i>AES</i>加密介绍
* <u>1</u>68.<i>Rijndael</i>加密
* <u>1</u>69.分组密码的模式
* <u>1</u>70.<i>ECB</i>模式使用
* <u>1</u>7<u>1</u>.<i>CBC</i>模式使用
* <u>1</u>72.<i>CFB</i>模式使用
* <u>1</u>73.<i>OFB</i>模式使用
* <u>1</u>74.<i>CTR</i>模式使用
* <u>1</u>75.非对称加密介绍
* <u>1</u>76.密钥配送问题
* <u>1</u>77.公钥密码介绍
* <u>1</u>78.<i>RSA</i>加密使用
* <u>1</u>79.椭圆曲线密码
* <u>1</u>80.其它公钥密码
* <u>1</u>8<u>1</u>.混合密码系统
* <u>1</u>82.数据完整性介绍
* <u>1</u>83.单向散列函数
* <u>1</u>84.认证协议介绍
* <u>1</u>85.消息认证码
* <u>1</u>86.数字签名
* <u>1</u>87.数字签名证书
* <u>1</u>89.深入密钥理论
* <u>1</u>90.随机数使用
* <u>1</u>9<u>1</u>.<i>PGP</i>密码技术
* <u>1</u>92.密码学基础总结</div>
<div class="n" style="left:163px;top:1533.8px;width:200.4px;height:956.33px;background:#FDF6D3;color:#5A4E0C"><b>##</b> <i>Rust</i> 数据库开发
* 346.<i>Rust</i>数据库开发概述
* 347.数据库基本概念：表、字段、索引、主
键、外键
* 348.<i>Rust</i> 数据库连接基础
* 349.使用 <i>Rust</i> 连接 <i>MySQL</i> 数据库
* 350.使用 <i>Rust</i> 连接 <i>PostgreSQL</i> 数据库
* 35<u>1</u>.使用 <i>Rust</i> 连接 <i>SQLite</i> 数据库
* 352.使用 <i>Rust</i> 连接 <i>MongoDB</i> 数据库
* 353.使用 <i>Rust</i> 连接 <i>Redis</i> 数据库
* 354.<i>Rust</i> 数据库查询基础
* 355.使用 <i>Rust</i> 执行简单的 <i>SQL</i> 查询
* 356.使用 <i>Rust</i> 执行复杂的 <i>SQL</i> 查询
* 357.<i>Rust</i> 数据库 <i>CRUD</i> 操作
* 358.使用 <i>Rust</i> 实现数据插入、更新、删除操作
* 359.使用 <i>Rust</i> 执行事务操作
* 360.使用 <i>Rust</i> 处理数据库的异常与错误
* 36<u>1</u>.数据库连接池的使用与管理
* 362.<i>Rust</i> 的异步数据库操作
* 363.使用 <i>async-std</i> 和 <i>tokio</i> 进行异步数据库
操作
* 364.使用 <i>Diesel</i> 进行数据库操作
* 365.使用 <i>SQLx</i> 进行异步数据库操作
* 366.使用 <i>Rust</i> 进行数据表的创建与删除
* 367.创建和管理数据库索引
* 368.使用 <i>Rust</i> 操作数据库视图与存储过程
* 369.<i>Rust</i> 与数据库模型映射（<i>ORM</i>）
* 370.使用 <i>Diesel</i> 进行模型映射
* 37<u>1</u>.使用 <i>SQLx</i> 进行模型映射
* 372.数据库性能优化技巧
* 373.数据库查询性能优化
* 374.<i>Rust</i> 中的数据库连接复用
* 375.使用 <i>Rust</i> 进行大数据量处理
* 376.使用 <i>Rust</i> 实现数据库备份与恢复
* 377.数据库迁移与版本控制
* 378.使用 <i>Diesel</i> 实现数据库迁移
* 379.使用 <i>SQLx</i> 实现数据库迁移
* 380.使用 <i>Rust</i> 实现分布式数据库系统
* 38<u>1</u>.数据库安全与加密
* 382.使用 <i>Rust</i> 实现数据库的认证与授权
* 383.数据库中的事务隔离与并发控制
* 384.使用 <i>Rust</i> 实现数据库的并发访问控制
* 385.数据库设计最佳实践
* 386.数据库正则化与反正则化
* 387.<i>Rust</i> 与分布式缓存（<i>Redis</i>）集成
* 388.使用 <i>Rust</i> 开发缓存系统
* 389.数据库与缓存的结合使用
* 390.使用 <i>Rust</i> 实现高可用的数据库架构
* 39<u>1</u>.使用 <i>Rust</i> 实现数据库的读写分离
* 392.使用 <i>Rust</i> 实现数据库分片
* 393.数据库故障恢复与容错机制
* 394.数据库日志与监控
* 395.使用 <i>Rust</i> 进行数据库日志记录
* 396.数据库性能监控与优化工具
* 397.使用 <i>Rust</i> 进行数据库调试与诊断
* 398.使用 <i>Rust</i> 进行数据库压测
* 399.数据库的容错性与高可用性设计
* 400.<i>Rust</i> 中的 <i>NoSQL</i> 数据库使用与操作（
<i>MongoDB</i>）
* 40<u>1</u>.<i>Rust</i> 中的关系型数据库使用与操作（
<i>MySQL</i>、<i>PostgreSQL</i>、<i>SQLite</i>）
* 402.使用 <i>Rust</i> 进行数据库测试与模拟
* 403.使用 <i>Rust</i> 进行数据库备份与恢复自动化
* 404.使用 <i>Redis</i> 作为缓存与数据库结合
* 405.使用 <i>Redis</i> 实现高性能的数据存储
* 406.使用 <i>PostgreSQL</i> 的全文搜索功能
* 407.使用 <i>SQLite</i> 进行嵌入式数据库开发
* 408.使用 <i>Rust</i> 进行数据库数据导入导出
* 409.分布式数据库与高可用架构的设计
* 4<u>1</u>0.<i>Rust</i> 与数据库事件驱动模型
* 4<u>1</u><u>1</u>.使用 <i>gRPC</i> 与数据库进行高效数据交换
* 4<u>1</u>2.使用 <i>Protocol</i> <i>Buffers</i> 进行数据库数据传
输
* 4<u>1</u>3.数据库的负载均衡与故障转移
* 4<u>1</u>4.数据库监控与告警系统
* 4<u>1</u>5.数据库版本控制与迁移工具
* 4<u>1</u>6.使用 <i>Rust</i> 构建数据库工具集
* 4<u>1</u>7.数据库优化与调优实践
* 4<u>1</u>8.数据库中的复制与同步机制
* 4<u>1</u>9.使用 <i>Rust</i> 与数据库进行大数据处理
* 420.使用 <i>Rust</i> 构建数据库驱动
* 42<u>1</u>.<i>Rust</i> 数据库开发总结</div>
<div class="n" style="left:150.9px;top:2512.7px;width:200.9px;height:563.12px;background:#FDECDB;color:#5C3A1A"><b>##</b> 网络通信开发
* 302.<i>Rust</i> 网络通信概述
* 303.网络协议基础
* 304.<i>OSI</i> 七层模型与 <i>TCP/IP</i> 模型
* 305.<i>Rust</i> 的网络库与工具介绍
* 306.<i>Rust</i> 的异步编程模型与 <i>Future</i>
* 307.<i>Rust</i> 中的网络库：<i>Tokio</i>、<i>async-std</i> 等
* 308.<i>Rust</i> 中的 <i>Socket</i> 编程基础
* 309.基于 <i>TCP</i> 的简单客户端与服务器实现
* 3<u>1</u>0.基于 <i>UDP</i> 的简单客户端与服务器实现
* 3<u>1</u><u>1</u>.网络分包与拆包基础
* 3<u>1</u>2.自定义协议的设计与实现
* 3<u>1</u>3.包头与包体的结构设计
* 3<u>1</u>4.数据包的拆分与合并
* 3<u>1</u>5.网络数据的编码与解码
* 3<u>1</u>6.消息传递的阻塞与非阻塞模型
* 3<u>1</u>7.数据包的完整性校验与错误检测
* 3<u>1</u>8.字节流的读取与写入：<i>Rust</i> 中的 <i>Byte</i>
<i>Buffer</i> 操作
* 3<u>1</u>9.网络数据流的序列化与反序列化
* 320.网络协议的版本控制与兼容性处理
* 32<u>1</u>.消息队列与消息传递机制
* 322.网络中的心跳包机制与实现
* 323.心跳包的超时与重连机制
* 324.网络连接管理与资源回收
* 325.网络连接池的设计与实现
* 326.异步 <i>I/O</i> 与 <i>Tokio</i> 异步编程模型
* 327.使用 <i>Tokio</i> 实现异步客户端
* 328.使用 <i>Tokio</i> 实现异步服务器
* 329.<i>Rust</i> 中的 <i>TCP</i> 连接复用与重用
* 330.<i>WebSocket</i> 协议与 <i>Rust</i> 实现
* 33<u>1</u>.<i>HTTP</i> 协议与 <i>Rust</i> 的 <i>HTTP</i> 客户端/服务器
实现
* 332.<i>HTTPS</i> 与加密通信
* 333.<i>Rust</i> 中的 <i>TLS/SSL</i> 实现
* 334.网络安全基础：加密、身份认证与授权
* 335.网络延迟与超时管理
* 336.<i>gRPC</i> 与 <i>Protocol</i> <i>Buffers</i> 的高效消息传
递
* 337.使用 <i>gRPC</i> 进行高性能网络通信
* 338.<i>RESTful</i> <i>API</i> 设计与网络通信
* 339.网络通信中的并发控制与同步机制
* 340.使用断点续传协议处理大文件传输
* 34<u>1</u>.网络通信中的状态管理与同步
* 342.网络协议设计中的数据压缩与加密
* 343.网络通信中的日志记录与监控
* 344.使用 <i>WebSockets</i> 实现实时通信
* 345.网络通信开发总结</div>
<div class="n" style="left:32px;top:310.2px;width:200.6px;height:1152.93px;background:#CCF2E5;color:#07593C"><b>##</b> <i>WebAssembly</i> 培训目录

* 42<u>1</u>.<i>WebAssembly</i> 概述
* 422.<i>WebAssembly</i> 是什么？基本概念与历史
* 423.<i>WebAssembly</i> 的目标与应用场景
* 424.为什么选择 <i>WebAssembly</i> 而不是其他技
术？
* 425.<i>WebAssembly</i> 与 <i>JavaScript</i>、<i>HTML</i>5 的
关系
* 426.<i>WebAssembly</i> 的基本架构与工作原理
* 427.<i>WebAssembly</i> 的模块与内存模型
* 428.<i>WebAssembly</i> 的生命周期：模块加载与
执行
* 429.<i>WebAssembly</i> 文件格式（.<i>wasm</i>）解析
与结构
* 430.<i>WebAssembly</i> 的内存管理与栈、堆的操
作
* 43<u>1</u>.安装与配置 <i>WebAssembly</i> 开发环境
* 432.使用 <i>Docker</i> 环境进行 <i>WebAssembly</i> 开
发
* 433.编写第一个 <i>WebAssembly</i> 模块：<i>Hello</i>
<i>World</i> 示例
* 434.使用 <i>WebAssembly</i> 的工具链：<i>wasm</i>-
<i>opt</i>、<i>wasi-sdk</i>、<i>emscripten</i> 等
* 435.使用 <i>Rust</i> 开发 <i>WebAssembly</i> 模块
* 436.使用 <i>C/C++</i> 开发 <i>WebAssembly</i> 模块
* 437.使用 <i>AssemblyScript</i> 开发
<i>WebAssembly</i> 模块
* 438.<i>WebAssembly</i> 模块的编译与优化
* 439.<i>WebAssembly</i> 模块的大小与加载速度优
化
* 440.<i>WebAssembly</i> 的模块导出与导入
* 44<u>1</u>.<i>WebAssembly</i> 与 <i>JavaScript</i> 的交互：如
何在 <i>JS</i> 中调用 <i>WASM</i>
* 442.使用 <i>JavaScript</i> 调用 <i>WebAssembly</i> 函
数
* 443.使用 <i>WebAssembly</i> 访问 <i>JavaScript</i> 对
象
* 444.在浏览器中运行 <i>WebAssembly</i> 模块
* 445.<i>WebAssembly</i> 模块的异步加载与执行
* 446.<i>WebAssembly</i> 与 <i>Web</i> <i>API</i> 的交互
* 447.在 <i>WebAssembly</i> 中处理 <i>I/O</i> 操作
* 448.<i>WebAssembly</i> 与 <i>DOM</i> 操作
* 449.<i>WebAssembly</i> 与图形渲染：结合 <i>WebGL</i>
* 450.<i>WebAssembly</i> 性能优化
* 45<u>1</u>.内存管理与垃圾回收优化
* 452.<i>WebAssembly</i> 的多线程支持与线程池
* 453.<i>WebAssembly</i> 的 <i>SIMD</i> 支持与性能提升
* 454.<i>WebAssembly</i> 的动态链接与模块共享
* 455.使用 <i>WebAssembly</i> 进行音视频编解码
* 456.<i>WebAssembly</i> 与网络请求（例如 <i>HTTP</i>
请求）
* 457.调试 <i>WebAssembly</i> 模块
* 458.使用浏览器开发者工具调试
<i>WebAssembly</i>
* 459.使用 <i>WebAssembly</i> 的调试器与性能分析
工具
* 460.<i>WebAssembly</i> 的安全性与沙箱机制
* 46<u>1</u>.<i>WebAssembly</i> 与 <i>Service</i> <i>Worker</i> 的结合
使用
* 462.<i>WebAssembly</i> 的跨平台开发与部署
* 463.<i>WebAssembly</i> 与 <i>Node.js</i> 开发
* 464.使用 <i>WebAssembly</i> 加速计算密集型任务
* 465.<i>WebAssembly</i> 与 <i>WASI</i>（<i>WebAssembly</i>
<i>System</i> <i>Interface</i>）
* 466.使用 <i>WASI</i> 进行 <i>WebAssembly</i> 的服务器
端开发
* 467.<i>WebAssembly</i> 与 <i>WebAssembly</i>
<i>System</i> <i>Interface</i>（<i>WASI</i>）
* 468.<i>WebAssembly</i> 的使用案例：游戏开发
* 469.<i>WebAssembly</i> 与机器学习：<i>TensorFlow</i>.
<i>js</i> 与 <i>WebAssembly</i>
* 470.<i>WebAssembly</i> 的打包与发布
* 47<u>1</u>.使用工具如 <i>Emscripten</i> 打包
<i>WebAssembly</i> 模块
* 472.在 <i>CDN</i> 上发布 <i>WebAssembly</i> 模块
* 473.<i>WebAssembly</i> 模块的兼容性与浏览器支
持
* 474.<i>WebAssembly</i> 与 <i>PWA</i>（<i>Progressive</i>
<i>Web</i> <i>Apps</i>）结合
* 475.<i>WebAssembly</i> 在前端框架中的应用（例
如与 <i>React</i>、<i>Vue</i> 集成）
* 476.<i>WebAssembly</i> 在后端框架中的应用（例
如与 <i>Express</i>、<i>Koa</i> 集成）
* 477.<i>WebAssembly</i> 的社区与生态系统
* 478.<i>WebAssembly</i> 相关工具与库的使用
* 479.<i>WebAssembly</i> 开发最佳实践
* 480.<i>WebAssembly</i> 开发中的常见问题与解决
方案
* 48<u>1</u>.<i>WebAssembly</i> 与未来 <i>Web</i> 标准的整合
* 482.<i>WebAssembly</i> 的版本控制与更新
* 483.<i>WebAssembly</i> 与云计算服务（如 <i>AWS</i>、
<i>Azure</i>）结合
* 484.<i>WebAssembly</i> 与 <i>WebAssembly</i> 在全栈
开发中的应用
* 485.<i>WebAssembly</i> 的部署与持续集成
* 486.<i>WebAssembly</i> 培训总结与实战演练
</div>
<div class="s" style="left:332px;top:36.8px;width:44px;background:#FDF6D3;color:#5A4E0C">聊天项目</div>
<div class="s" style="left:291px;top:286.1px;width:23.5px;background:#CCF2E5;color:#07593C"><i>vue</i></div>
<div class="s" style="left:331.2px;top:581.9px;width:43.8px;background:#CCF2E5;color:#07593C">前端开发</div>
<div class="s" style="left:249.5px;top:877.5px;width:65px;background:#CCF2E5;color:#07593C"><i>webassembly</i></div>
<div class="s" style="left:196px;top:1467.7px;width:52.1px;background:#FBD7D5;color:#07593C"><i>sping</i> <i>boot</i></div>
<div class="s" style="left:265.3px;top:1467.7px;width:49.1px;background:#FBD7D5;color:#07593C"><i>java</i>(额外)</div>
<div class="s" style="left:291px;top:1492px;width:23.4px;background:#FBD7D5;color:#07593C"><i>rust</i></div>
<div class="s" style="left:331.4px;top:1479.8px;width:43.2px;background:#FBD7D5;color:#07593C">后台开发</div>
<div class="c" style="left:532px;top:1385px;width:220px;height:70px">rust语言全栈开发视<br>频教程<i>(2025</i>最新<i>)</i></div>
<div class="pw" style="left:476.5px;top:3128.5px">Presented with <b>xmind</b></div>
<div class="wm" style="left:674.5px;top:3091.5px">公众号</div><div class="wm" style="left:767px;top:3091.5px;font-weight:bold" id="dot">·</div><div class="wm" style="left:801.5px;top:3091.5px">安全狗的自我修养</div>
<svg style="position:absolute;left:622px;top:3089px" width="46" height="38" viewBox="0 0 46 38"><ellipse cx="16.5" cy="14.5" rx="15.5" ry="13" fill="#b2b2b2"/><path d="M7 25 L5 32 L13 27Z" fill="#b2b2b2"/><ellipse cx="31.5" cy="24.5" rx="13.5" ry="11.5" fill="#b2b2b2" stroke="#fff" stroke-width="1.6"/><path d="M38 33 L41 38 L33 35Z" fill="#b2b2b2"/><circle cx="11" cy="11" r="2" fill="#fff"/><circle cx="22" cy="11" r="2" fill="#fff"/><circle cx="27" cy="21" r="1.7" fill="#fff"/><circle cx="36" cy="21" r="1.7" fill="#fff"/></svg>
</body></html>
